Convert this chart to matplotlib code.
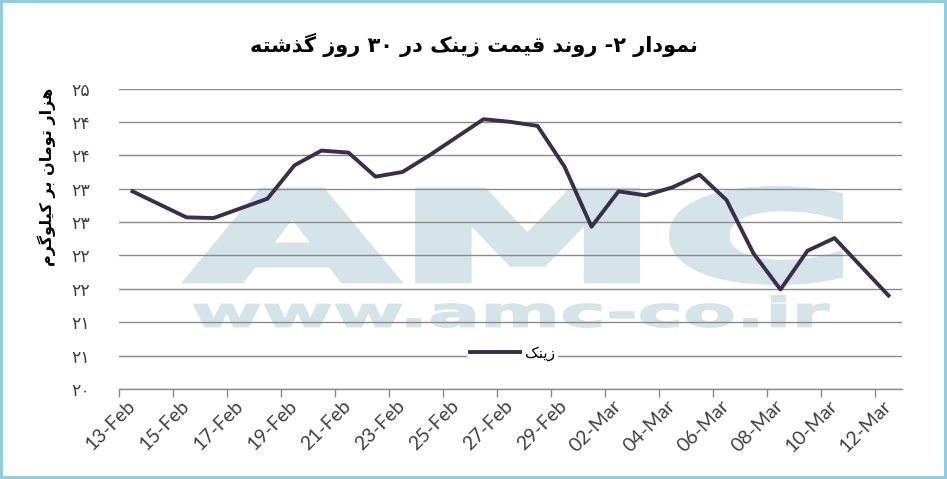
import re

import numpy as np
from matplotlib import pyplot as plt
from matplotlib.font_manager import FontProperties
from matplotlib.patches import PathPatch, Rectangle
from matplotlib.textpath import TextPath
from matplotlib.transforms import Affine2D


dates = ['2016-02-13', '2016-02-15', '2016-02-16', '2016-02-18', '2016-02-19',
         '2016-02-20', '2016-02-21', '2016-02-22', '2016-02-23', '2016-02-24',
         '2016-02-26', '2016-02-27', '2016-02-28', '2016-02-29', '2016-03-01',
         '2016-03-02', '2016-03-03', '2016-03-04', '2016-03-05', '2016-03-06',
         '2016-03-07', '2016-03-08', '2016-03-09', '2016-03-10', '2016-03-12']
zinc = [22.96, 22.57, 22.56, 22.85, 23.35, 23.57, 23.54, 23.18, 23.25, 23.50,
        24.04, 24.00, 23.94, 23.33, 22.43, 22.96, 22.90, 23.02, 23.21, 22.83,
        22.03, 21.49, 22.07, 22.26, 21.40]
x_labels = ['13-Feb', '15-Feb', '17-Feb', '19-Feb', '21-Feb', '23-Feb', '25-Feb',
            '27-Feb', '29-Feb', '02-Mar', '04-Mar', '06-Mar', '08-Mar', '10-Mar',
            '12-Mar']
y_ticks = [20, 20.5, 21, 21.5, 22, 22.5, 23, 23.5, 24, 24.5]

title = 'نمودار ۲- روند قیمت زینک در ۳۰ روز گذشته'
y_title = 'هزار تومان بر کیلوگرم'
series_name = 'زینک'

W, H = 947, 479

# isolated, final, initial, medial
FORMS = {
  'ا': ('\uFE8D', '\uFE8E', None, None),
  'ب': ('\uFE8F', '\uFE90', '\uFE91', '\uFE92'),
  'ت': ('\uFE95', '\uFE96', '\uFE97', '\uFE98'),
  'د': ('\uFEA9', '\uFEAA', None, None),
  'ذ': ('\uFEAB', '\uFEAC', None, None),
  'ر': ('\uFEAD', '\uFEAE', None, None),
  'ز': ('\uFEAF', '\uFEB0', None, None),
  'ش': ('\uFEB5', '\uFEB6', '\uFEB7', '\uFEB8'),
  'ق': ('\uFED5', '\uFED6', '\uFED7', '\uFED8'),
  'ل': ('\uFEDD', '\uFEDE', '\uFEDF', '\uFEE0'),
  'م': ('\uFEE1', '\uFEE2', '\uFEE3', '\uFEE4'),
  'ن': ('\uFEE5', '\uFEE6', '\uFEE7', '\uFEE8'),
  'ه': ('\uFEE9', '\uFEEA', '\uFEEB', '\uFEEC'),
  'و': ('\uFEED', '\uFEEE', None, None),
  'ک': ('\uFB8E', '\uFB8F', '\uFB90', '\uFB91'),
  'گ': ('\uFB92', '\uFB93', '\uFB94', '\uFB95'),
  'ی': ('\uFBFC', '\uFBFD', '\uFBFE', '\uFBFF'),
}


def fa(text):
  # joins the letters and puts them in visual (left to right) order
  out = []
  for i, ch in enumerate(text):
    f = FORMS.get(ch)
    if f is None:
      out.append(ch)
      continue
    prev = text[i - 1] if i > 0 else ''
    nxt = text[i + 1] if i < len(text) - 1 else ''
    jp = prev in FORMS and FORMS[prev][2] is not None
    jn = f[2] is not None and nxt in FORMS
    if jp and jn:
      out.append(f[3])
    elif jp:
      out.append(f[1])
    elif jn:
      out.append(f[2])
    else:
      out.append(f[0])
  vis = ''.join(out)[::-1]
  return re.sub(r'[0-9۰-۹]+', lambda m: m.group()[::-1], vis)


def fa_num(v):
  n = int(np.floor(v + 0.5))
  return str(n).translate(str.maketrans('0123456789', '۰۱۲۳۴۵۶۷۸۹'))


def watermark(ax, s, box, color, stroke):
  tp = TextPath((0, 0), s, size=100,
                prop=FontProperties(family='DejaVu Sans', weight='bold'))
  ext = tp.get_extents()
  half = stroke * 100 / 72 / 2
  x0, ytop, x1, ybot = box
  x0, ytop, x1, ybot = x0 + half, ytop + half, x1 - half, ybot - half
  tr = (Affine2D().translate(-ext.x0, -ext.y0)
        .scale((x1 - x0) / W / ext.width, (ybot - ytop) / H / ext.height)
        .translate(x0 / W, 1 - ybot / H))
  ax.add_patch(PathPatch(tr.transform_path(tp), fc=color, ec=color, lw=stroke,
                         joinstyle='miter', transform=ax.figure.transFigure,
                         zorder=0.2, clip_on=False))


def main():
  d = np.array(dates, dtype='datetime64[D]')
  days = (d - d[0]).astype(int)
  n_days = len(x_labels) * 2 - 1

  fig = plt.figure(figsize=(W / 100, H / 100), dpi=100)
  ax = fig.add_axes([119 / W, 1 - 389 / H, 783 / W, 300.5 / H])

  watermark(ax, 'AMC', (186, 186, 843, 285), '#d5e4ea', 6.5)
  watermark(ax, 'www.amc-co.ir', (193, 295, 830, 328), '#d5e4ea', 1.2)

  ax.plot(days, zinc, color='#3b2d4d', lw=2.8, solid_joinstyle='round',
          label=fa(series_name), zorder=3)

  ax.set_xlim(-0.5, n_days - 0.5)
  ax.set_ylim(20, 24.5)
  ax.set_axisbelow(True)
  ax.yaxis.grid(True, color='#8a8a8a', lw=1.0)
  for s in ['left', 'right', 'top']:
    ax.spines[s].set_visible(False)
  ax.spines['bottom'].set_color('#8a8a8a')
  ax.spines['bottom'].set_linewidth(1.0)

  ax.set_xticks(np.arange(-0.5, n_days, 2))
  ax.set_xticklabels([])
  ax.tick_params(axis='x', which='major', length=6, width=1.0, color='#8a8a8a')
  ax.set_xticks(np.arange(0, n_days, 2), x_labels, minor=True)
  ax.tick_params(axis='x', which='minor', length=0, pad=10, labelsize=14,
                 labelcolor='#404040')
  for lab in ax.get_xticklabels(minor=True):
    lab.set_rotation(45)
    lab.set_rotation_mode('anchor')
    lab.set_ha('right')
    lab.set_va('center')
    lab.set_family('Lato')

  ax.set_yticks(y_ticks, [fa_num(v) for v in y_ticks])
  ax.tick_params(axis='y', length=0, pad=21, labelsize=12.5, labelcolor='#404040')
  for lab in ax.get_yticklabels():
    lab.set_family('DejaVu Sans')

  fig.text(0.5, 1 - 45 / H, fa(title), ha='center', va='center', fontsize=15,
           fontweight='bold', family='DejaVu Sans', color='black')
  fig.text(47 / W, 1 - 177 / H, fa(y_title), ha='center', va='center',
           rotation=90, fontsize=11.5, fontweight='bold', family='DejaVu Sans',
           color='black')

  ax.legend(loc='center', bbox_to_anchor=(0.502, 0.12), frameon=True,
            facecolor='white', edgecolor='none', framealpha=1, fancybox=False,
            handlelength=3.3, handletextpad=0.3, borderpad=0.2,
            prop={'family': 'DejaVu Sans', 'size': 11})

  fig.patches.append(Rectangle((0, 0), 1, 1, transform=fig.transFigure,
                               fill=False, ec='#92cddc', lw=4.3))

  fig.savefig('out.png', dpi=100)


if __name__ == '__main__':
  main()
